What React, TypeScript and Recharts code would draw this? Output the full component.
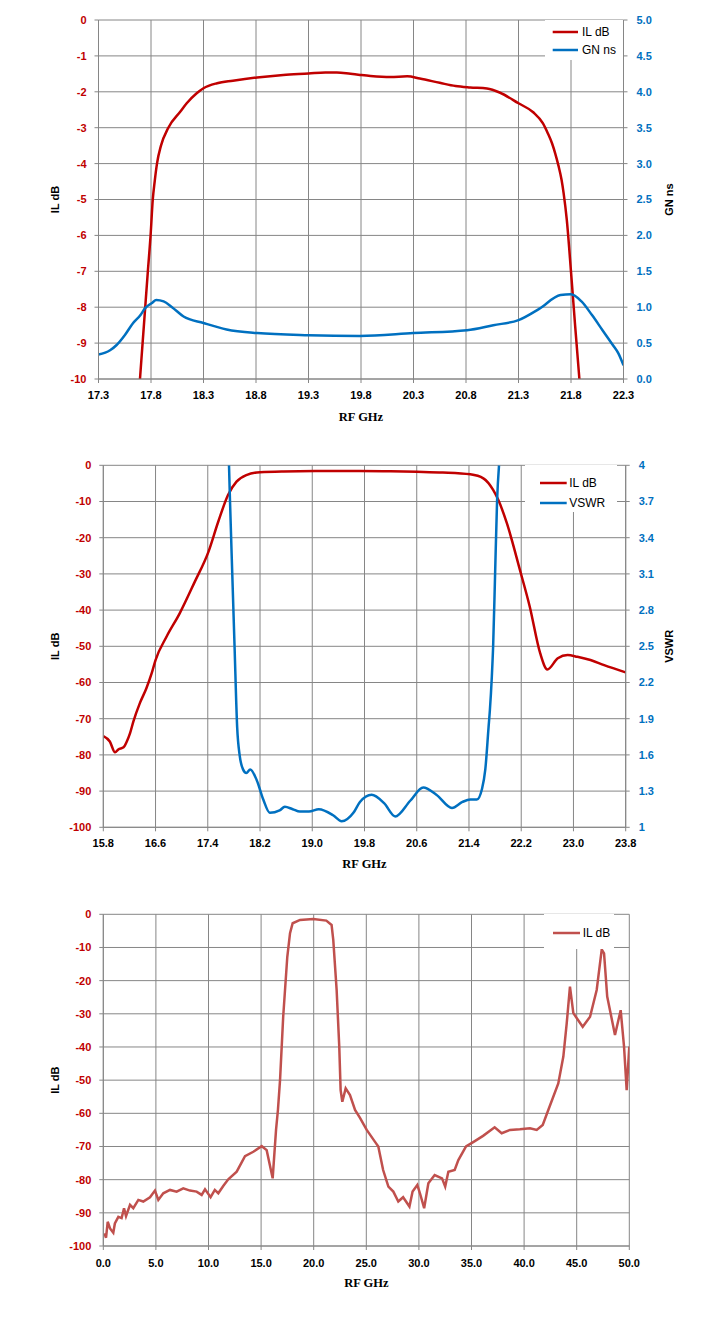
import React from "react";
import { LineChart, Line, XAxis, YAxis, CartesianGrid, Legend } from "recharts";

// colours / fonts
const RED = "#C00000";
const BLUE = "#0070C0";
const BRICK = "#C0504D";
const GRID = "#868686";
const SANS = "'Liberation Sans', Arial, sans-serif";
const SERIF = "'Liberation Serif', 'Times New Roman', serif";

// ---------- chart 1: IL dB + GN ns, 17.3 - 22.3 GHz ----------
const freqTicks1 = [17.3, 17.8, 18.3, 18.8, 19.3, 19.8, 20.3, 20.8, 21.3, 21.8, 22.3];
const ilTicks1 = [0, -1, -2, -3, -4, -5, -6, -7, -8, -9, -10];
const gnTicks1 = [0, 0.5, 1, 1.5, 2, 2.5, 3, 3.5, 4, 4.5, 5];

const ilFreq1 = [
  17.695, 17.72, 17.745, 17.77, 17.796, 17.817, 17.835, 17.857, 17.895, 17.965,
  18.08, 18.14, 18.235, 18.3, 18.43, 18.58, 18.81, 19.06, 19.3, 19.46,
  19.57, 19.7, 19.79, 19.89, 20.08, 20.24, 20.36, 20.55, 20.7, 20.84,
  21.0, 21.12, 21.3, 21.44, 21.533, 21.58, 21.62, 21.65, 21.68, 21.71,
  21.73, 21.76, 21.8, 21.84, 21.88,
];
const ilDb1 = [
  -10, -9, -8, -7, -6, -5, -4.5, -4, -3.5, -3,
  -2.55, -2.32, -2.04, -1.9, -1.76, -1.69, -1.6, -1.53, -1.49, -1.46,
  -1.46, -1.5, -1.53, -1.56, -1.59, -1.57, -1.63, -1.75, -1.84, -1.88,
  -1.91, -2.02, -2.32, -2.57, -2.88, -3.16, -3.44, -3.72, -4.05, -4.45,
  -4.83, -5.57, -7.01, -8.54, -10,
];

const gnFreq1 = [
  17.3, 17.41, 17.47, 17.55, 17.63, 17.7, 17.74, 17.81, 17.85, 17.92,
  18.0, 18.11, 18.3, 18.52, 18.81, 19.3, 19.79, 20.3, 20.81, 21.06,
  21.3, 21.5, 21.7, 21.8, 21.9, 22.0, 22.1, 22.2, 22.25, 22.3,
];
const gnNs1 = [
  0.34, 0.4, 0.47, 0.61, 0.78, 0.89, 0.98, 1.06, 1.1, 1.08,
  1.0, 0.87, 0.78, 0.69, 0.64, 0.61, 0.6, 0.64, 0.68, 0.75,
  0.82, 0.98, 1.17, 1.18, 1.08, 0.89, 0.68, 0.47, 0.36, 0.19,
];

// ---------- chart 2: IL dB + VSWR, 15.8 - 23.8 GHz ----------
const freqTicks2 = [15.8, 16.6, 17.4, 18.2, 19.0, 19.8, 20.6, 21.4, 22.2, 23.0, 23.8];
const ilTicks2 = [0, -10, -20, -30, -40, -50, -60, -70, -80, -90, -100];
const vswrTicks2 = [1, 1.3, 1.6, 1.9, 2.2, 2.5, 2.8, 3.1, 3.4, 3.7, 4];

const ilFreq2 = [
  15.8, 15.9, 15.98, 16.03, 16.11, 16.16, 16.21, 16.26, 16.36, 16.46,
  16.54, 16.6, 16.77, 16.97, 17.2, 17.41, 17.56, 17.71, 17.84, 17.99,
  18.2, 18.56, 19.2, 19.73, 20.2, 20.6, 21.0, 21.42, 21.62, 21.77,
  21.85, 21.98, 22.18, 22.33, 22.49, 22.6, 22.76, 22.91, 23.06, 23.26,
  23.47, 23.8,
];
const ilDb2 = [
  -74.8, -76.3, -79.3, -78.5, -77.9, -76.3, -74, -70.8, -65.7, -61.6,
  -57.5, -53.8, -47.3, -40.9, -32.2, -23.9, -15.6, -8.2, -4.5, -2.7,
  -1.9, -1.7, -1.6, -1.6, -1.65, -1.8, -2.0, -2.5, -3.6, -6.8,
  -9.6, -16, -28.9, -39, -51.9, -56.4, -53.3, -52.4, -52.9, -53.8,
  -55.2, -57.2,
];

const vswrFreq2 = [
  17.725, 17.74, 17.775, 17.81, 17.85, 17.89, 17.94, 17.99, 18.05, 18.15,
  18.25, 18.35, 18.5, 18.58, 18.7, 18.81, 18.95, 19.1, 19.32, 19.45,
  19.63, 19.73, 19.91, 20.1, 20.27, 20.5, 20.7, 20.9, 21.14, 21.3,
  21.42, 21.52, 21.6, 21.65, 21.7, 21.72, 21.75, 21.77, 21.8, 21.83, 21.86,
];
const vswr2 = [
  4, 3.71, 3.1, 2.5, 1.83, 1.59, 1.48, 1.45, 1.48, 1.39,
  1.23, 1.12, 1.14, 1.17, 1.15, 1.13, 1.13, 1.15, 1.1, 1.05,
  1.12, 1.21, 1.27, 1.2, 1.09, 1.22, 1.33, 1.27, 1.16, 1.21,
  1.23, 1.23, 1.32, 1.48, 1.83, 1.97, 2.25, 2.5, 3.1, 3.7, 4,
];

// ---------- chart 3: wideband IL dB, 0 - 50 GHz ----------
const freqTicks3 = [0, 5, 10, 15, 20, 25, 30, 35, 40, 45, 50];
const ilTicks3 = [0, -10, -20, -30, -40, -50, -60, -70, -80, -90, -100];

const ilFreq3 = [
  0.1, 0.26, 0.42, 0.64, 0.95, 1.1, 1.43, 1.74, 1.97, 2.16,
  2.54, 2.85, 3.33, 3.8, 4.44, 4.91, 5.23, 5.7, 6.34, 6.97,
  7.6, 8.24, 8.87, 9.35, 9.67, 10.2, 10.6, 10.93, 11.4, 11.88,
  12.68, 13.47, 14.26, 15.06, 15.53, 16.1, 16.42, 16.6, 16.8, 17.1,
  17.49, 17.75, 18.0, 18.7, 19.96, 21.2, 21.7, 21.86, 22.18, 22.43,
  22.56, 22.72, 23.04, 23.45, 23.93, 24.4, 25.04, 25.83, 26.14, 26.6,
  27.1, 27.57, 28.04, 28.5, 29.1, 29.4, 29.85, 30.1, 30.5, 30.9,
  31.5, 32.2, 32.5, 32.8, 33.4, 33.75, 34.48, 35.2, 36.1, 37.2,
  37.87, 38.66, 39.6, 40.56, 41.2, 41.77, 42.3, 43.25, 43.73, 44.05,
  44.36, 44.68, 45.57, 46.27, 46.9, 47.38, 47.6, 47.9, 48.64, 49.18,
  49.5, 49.75, 50,
];
const ilDb3 = [
  -96.2, -97.5, -92.7, -94.7, -96, -93.2, -91.2, -91.6, -88.6, -91,
  -87.6, -88.6, -86.1, -86.6, -85.3, -83.3, -86.1, -84.1, -83.1, -83.6,
  -82.6, -83.3, -83.6, -84.6, -82.9, -85.3, -83.1, -84.1, -81.9, -79.9,
  -77.6, -72.9, -71.6, -69.9, -71.1, -79.6, -65, -59, -50, -30.9,
  -12.8, -5.7, -2.7, -1.7, -1.4, -1.9, -3.2, -7.7, -22.8, -39.9,
  -53, -56.5, -52.5, -54.5, -59, -61.4, -65, -68.6, -70, -77.1,
  -82.1, -83.6, -86.6, -85.3, -88.1, -83.6, -81.6, -84.1, -88.6, -81.1,
  -78.6, -79.6, -82.1, -77.6, -77.1, -74.1, -70, -68.6, -66.8, -64.2,
  -66, -65, -64.8, -64.5, -65, -63.5, -59, -51, -42.9, -32.9,
  -21.8, -29.8, -33.9, -30.9, -22.8, -10.6, -11.8, -24.8, -36.4, -28.9,
  -39.9, -53, -39.9,
];

const zip = (f: number[], v: number[]) => f.map((x, i) => ({ f: x, v: v[i] }));

const tickFont = { fontSize: 11, fontWeight: 700, fontFamily: SANS };

function VTitle({ x, cy, text }: { x: number; cy: number; text: string }) {
  return (
    <text
      x={x}
      y={cy}
      transform={`rotate(-90 ${x} ${cy})`}
      textAnchor="middle"
      dominantBaseline="central"
      fill="#000"
      style={{ fontSize: 11, fontWeight: 700, fontFamily: SANS }}
    >
      {text}
    </text>
  );
}

function XTitle({ cx, y }: { cx: number; y: number }) {
  return (
    <text x={cx} y={y} textAnchor="middle" fill="#000" style={{ fontSize: 12.5, fontWeight: 700, fontFamily: SERIF }}>
      RF GHz
    </text>
  );
}

// legend drawn as a white box over the grid, items kept in series order
function LegendBox({ payload, order, padTop, rowH, indent, lineW, gap }: any) {
  const items = [...(payload || [])].sort(
    (a: any, b: any) => order.indexOf(a.value) - order.indexOf(b.value)
  );
  return (
    <div style={{ background: "#fff", width: "100%", height: "100%", paddingTop: padTop, boxSizing: "border-box" }}>
      {items.map((p: any) => (
        <div key={p.value} style={{ display: "flex", alignItems: "center", height: rowH }}>
          <svg width={indent + lineW} height={6} style={{ display: "block" }}>
            <line x1={indent} x2={indent + lineW} y1={3} y2={3} stroke={p.color} strokeWidth={2.5} />
          </svg>
          <span style={{ marginLeft: gap, fontSize: 12, fontFamily: SANS, color: "#000", lineHeight: "12px" }}>{p.value}</span>
        </div>
      ))}
    </div>
  );
}

const W = 718;

function Chart1() {
  const H = 440, pl = 98.5, pr = 623.5, pt = 20, pb = 379;
  const cy = (pt + pb) / 2;
  return (
    <LineChart width={W} height={H} margin={{ top: pt, right: 0, bottom: 0, left: 0 }}>
      <CartesianGrid stroke={GRID} yAxisId="l" />
      <XAxis
        type="number"
        dataKey="f"
        domain={[17.3, 22.3]}
        ticks={freqTicks1}
        interval={0}
        allowDataOverflow
        height={H - pb}
        tickSize={4}
        tickMargin={8}
        stroke={GRID}
        tick={{ ...tickFont, fill: "#000" }}
        tickFormatter={(v: number) => v.toFixed(1)}
        label={() => <XTitle cx={(pl + pr) / 2} y={pb + 42} />}
      />
      <YAxis
        yAxisId="l"
        type="number"
        domain={[-10, 0]}
        ticks={ilTicks1}
        interval={0}
        allowDataOverflow
        width={pl}
        tickSize={4}
        tickMargin={8}
        stroke={GRID}
        tick={{ ...tickFont, fill: RED }}
        label={() => <VTitle x={55} cy={cy} text="IL dB" />}
      />
      <YAxis
        yAxisId="r"
        orientation="right"
        type="number"
        domain={[0, 5]}
        ticks={gnTicks1}
        interval={0}
        allowDataOverflow
        width={W - pr}
        tickSize={4}
        tickMargin={9}
        stroke={GRID}
        tick={{ ...tickFont, fill: BLUE }}
        tickFormatter={(v: number) => v.toFixed(1)}
        label={() => <VTitle x={669} cy={cy} text="GN ns" />}
      />
      <Legend
        layout="vertical"
        align="center"
        verticalAlign="middle"
        wrapperStyle={{ left: 545, top: 20, width: 78, height: 40 }}
        content={(p: any) => (
          <LegendBox {...p} order={["IL dB", "GN ns"]} padTop={3} rowH={18} indent={7.7} lineW={25.3} gap={4} />
        )}
      />
      <Line yAxisId="l" name="IL dB" data={zip(ilFreq1, ilDb1)} dataKey="v" type="monotone" stroke={RED} strokeWidth={2.5} dot={false} activeDot={false} isAnimationActive={false} />
      <Line yAxisId="r" name="GN ns" data={zip(gnFreq1, gnNs1)} dataKey="v" type="monotone" stroke={BLUE} strokeWidth={2.5} dot={false} activeDot={false} isAnimationActive={false} />
    </LineChart>
  );
}

function Chart2() {
  const H = 440, pl = 103.3, pr = 625.7, pt = 25.3, pb = 387.3;
  const cy = (pt + pb) / 2;
  return (
    <LineChart width={W} height={H} margin={{ top: pt, right: 0, bottom: 0, left: 0 }}>
      <CartesianGrid stroke={GRID} yAxisId="l" />
      <XAxis
        type="number"
        dataKey="f"
        domain={[15.8, 23.8]}
        ticks={freqTicks2}
        interval={0}
        allowDataOverflow
        height={H - pb}
        tickSize={4}
        tickMargin={8}
        stroke={GRID}
        tick={{ ...tickFont, fill: "#000" }}
        tickFormatter={(v: number) => v.toFixed(1)}
        label={() => <XTitle cx={(pl + pr) / 2} y={pb + 41} />}
      />
      <YAxis
        yAxisId="l"
        type="number"
        domain={[-100, 0]}
        ticks={ilTicks2}
        interval={0}
        allowDataOverflow
        width={pl}
        tickSize={4}
        tickMargin={8}
        stroke={GRID}
        tick={{ ...tickFont, fill: RED }}
        label={() => <VTitle x={55} cy={cy} text="IL dB" />}
      />
      <YAxis
        yAxisId="r"
        orientation="right"
        type="number"
        domain={[1, 4]}
        ticks={vswrTicks2}
        interval={0}
        allowDataOverflow
        width={W - pr}
        tickSize={4}
        tickMargin={9}
        stroke={GRID}
        tick={{ ...tickFont, fill: BLUE }}
        tickFormatter={(v: number) => String(+v.toFixed(1))}
        label={() => <VTitle x={669} cy={cy} text="VSWR" />}
      />
      <Legend
        layout="vertical"
        align="center"
        verticalAlign="middle"
        wrapperStyle={{ left: 525, top: 25, width: 92, height: 47 }}
        content={(p: any) => (
          <LegendBox {...p} order={["IL dB", "VSWR"]} padTop={7.7} rowH={20} indent={15} lineW={26.7} gap={2.6} />
        )}
      />
      <Line yAxisId="l" name="IL dB" data={zip(ilFreq2, ilDb2)} dataKey="v" type="monotone" stroke={RED} strokeWidth={2.5} dot={false} activeDot={false} isAnimationActive={false} />
      <Line yAxisId="r" name="VSWR" data={zip(vswrFreq2, vswr2)} dataKey="v" type="monotone" stroke={BLUE} strokeWidth={2.5} dot={false} activeDot={false} isAnimationActive={false} />
    </LineChart>
  );
}

function Chart3() {
  const H = 452, pl = 103.3, pr = 629.3, pt = 34.3, pb = 366;
  const cy = (pt + pb) / 2;
  return (
    <LineChart width={W} height={H} margin={{ top: pt, right: W - pr, bottom: 0, left: 0 }}>
      <CartesianGrid stroke={GRID} />
      <XAxis
        type="number"
        dataKey="f"
        domain={[0, 50]}
        ticks={freqTicks3}
        interval={0}
        allowDataOverflow
        height={H - pb}
        tickSize={4}
        tickMargin={9}
        stroke={GRID}
        tick={{ ...tickFont, fill: "#000" }}
        tickFormatter={(v: number) => v.toFixed(1)}
        label={() => <XTitle cx={(pl + pr) / 2} y={pb + 41} />}
      />
      <YAxis
        type="number"
        domain={[-100, 0]}
        ticks={ilTicks3}
        interval={0}
        allowDataOverflow
        width={pl}
        tickSize={4}
        tickMargin={8}
        stroke={GRID}
        tick={{ ...tickFont, fill: RED }}
        label={() => <VTitle x={55} cy={cy} text="IL dB" />}
      />
      <Legend
        layout="vertical"
        align="center"
        verticalAlign="middle"
        wrapperStyle={{ left: 544, top: 34, width: 70, height: 35 }}
        content={(p: any) => (
          <LegendBox {...p} order={["IL dB"]} padTop={9.7} rowH={18} indent={9} lineW={27} gap={2.7} />
        )}
      />
      <Line name="IL dB" data={zip(ilFreq3, ilDb3)} dataKey="v" type="linear" stroke={BRICK} strokeWidth={2.5} dot={false} activeDot={false} isAnimationActive={false} />
    </LineChart>
  );
}

export default function App() {
  return (
    <div style={{ position: "absolute", left: 0, top: 0, width: 718, height: 1332, background: "#fff", fontFamily: SANS }}>
      <div style={{ position: "absolute", left: 0, top: 0 }}>
        <Chart1 />
      </div>
      <div style={{ position: "absolute", left: 0, top: 440 }}>
        <Chart2 />
      </div>
      <div style={{ position: "absolute", left: 0, top: 880 }}>
        <Chart3 />
      </div>
    </div>
  );
}
